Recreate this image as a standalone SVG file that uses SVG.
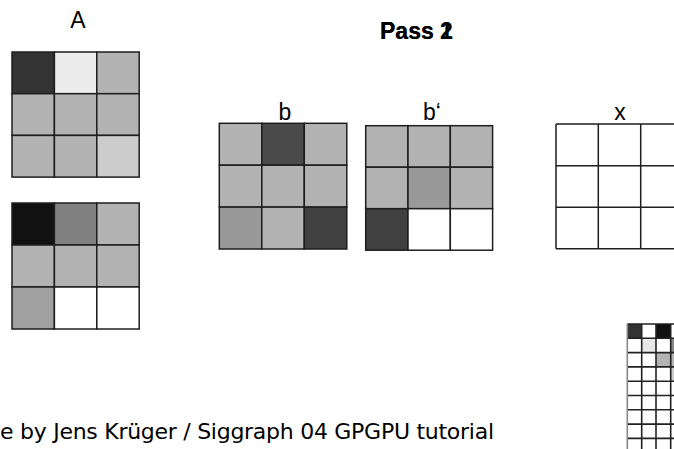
<svg xmlns="http://www.w3.org/2000/svg" width="674" height="449" viewBox="0 0 674 449">
<style>
.cell{stroke:#1e1e1e;stroke-width:1.5}
.lbl{font-family:"Liberation Sans",Arial,sans-serif;font-size:23px;fill:#000;text-anchor:middle}
.pass{font-family:"Liberation Sans",Arial,sans-serif;font-size:23px;font-weight:bold;fill:#000}
.ln{stroke:#1e1e1e;stroke-width:1.5;fill:none}
.sg{stroke:#222;stroke-width:1.6;fill:none}
</style>
<rect width="674" height="449" fill="#fff"/>

<g id="matrixA_top">
<text class="lbl" x="78" y="28">A</text>
<rect class="cell" x="12" y="52" width="42.4" height="41.7" fill="#333333"/>
<rect class="cell" x="54.4" y="52" width="42.4" height="41.7" fill="#ececec"/>
<rect class="cell" x="96.8" y="52" width="42.4" height="41.7" fill="#b3b3b3"/>
<rect class="cell" x="12" y="93.7" width="42.4" height="41.7" fill="#b3b3b3"/>
<rect class="cell" x="54.4" y="93.7" width="42.4" height="41.7" fill="#b3b3b3"/>
<rect class="cell" x="96.8" y="93.7" width="42.4" height="41.7" fill="#b3b3b3"/>
<rect class="cell" x="12" y="135.4" width="42.4" height="41.7" fill="#b3b3b3"/>
<rect class="cell" x="54.4" y="135.4" width="42.4" height="41.7" fill="#b3b3b3"/>
<rect class="cell" x="96.8" y="135.4" width="42.4" height="41.7" fill="#cccccc"/>
</g>

<g id="matrixA_bottom">
<rect class="cell" x="12" y="203" width="42.4" height="42" fill="#111111"/>
<rect class="cell" x="54.4" y="203" width="42.4" height="42" fill="#808080"/>
<rect class="cell" x="96.8" y="203" width="42.4" height="42" fill="#b3b3b3"/>
<rect class="cell" x="12" y="245" width="42.4" height="42" fill="#b3b3b3"/>
<rect class="cell" x="54.4" y="245" width="42.4" height="42" fill="#b3b3b3"/>
<rect class="cell" x="96.8" y="245" width="42.4" height="42" fill="#b3b3b3"/>
<rect class="cell" x="12" y="287" width="42.4" height="42" fill="#a0a0a0"/>
<rect class="cell" x="54.4" y="287" width="42.4" height="42" fill="#ffffff"/>
<rect class="cell" x="96.8" y="287" width="42.4" height="42" fill="#ffffff"/>
</g>

<g id="pass">
<text class="pass" x="380" y="39">Pass 1</text>
<text class="pass" x="380" y="39">Pass 2</text>
</g>

<g id="vector_b">
<text class="lbl" x="285" y="120">b</text>
<rect class="cell" x="219.3" y="123.3" width="42.5" height="41.9" fill="#b3b3b3"/>
<rect class="cell" x="261.8" y="123.3" width="42.5" height="41.9" fill="#4a4a4a"/>
<rect class="cell" x="304.3" y="123.3" width="42.5" height="41.9" fill="#b3b3b3"/>
<rect class="cell" x="219.3" y="165.2" width="42.5" height="41.9" fill="#b3b3b3"/>
<rect class="cell" x="261.8" y="165.2" width="42.5" height="41.9" fill="#b3b3b3"/>
<rect class="cell" x="304.3" y="165.2" width="42.5" height="41.9" fill="#b3b3b3"/>
<rect class="cell" x="219.3" y="207.1" width="42.5" height="41.9" fill="#999999"/>
<rect class="cell" x="261.8" y="207.1" width="42.5" height="41.9" fill="#b3b3b3"/>
<rect class="cell" x="304.3" y="207.1" width="42.5" height="41.9" fill="#404040"/>
</g>

<g id="vector_b_prime">
<text class="lbl" x="432" y="120">b‘</text>
<rect class="cell" x="365.7" y="125.7" width="42.3" height="41.5" fill="#b3b3b3"/>
<rect class="cell" x="408" y="125.7" width="42.3" height="41.5" fill="#b3b3b3"/>
<rect class="cell" x="450.3" y="125.7" width="42.3" height="41.5" fill="#b3b3b3"/>
<rect class="cell" x="365.7" y="167.2" width="42.3" height="41.5" fill="#b3b3b3"/>
<rect class="cell" x="408" y="167.2" width="42.3" height="41.5" fill="#999999"/>
<rect class="cell" x="450.3" y="167.2" width="42.3" height="41.5" fill="#b3b3b3"/>
<rect class="cell" x="365.7" y="208.7" width="42.3" height="41.5" fill="#404040"/>
<rect class="cell" x="408" y="208.7" width="42.3" height="41.5" fill="#ffffff"/>
<rect class="cell" x="450.3" y="208.7" width="42.3" height="41.5" fill="#ffffff"/>
</g>

<g id="vector_x">
<text class="lbl" x="620" y="120">x</text>
<path class="ln" d="M556,124H674M556,165.7H674M556,207.3H674M556,248.7H674M556,124V248.7M598.3,124V248.7M640.7,124V248.7"/>
</g>

<g id="small_grid">
<rect x="627.3" y="324" width="14.4" height="14.3" fill="#333333"/>
<rect x="656" y="324" width="14.7" height="14.3" fill="#111111"/>
<rect x="641.7" y="338.3" width="14.3" height="14.3" fill="#e8e8e8"/>
<rect x="670.7" y="338.3" width="4" height="14.3" fill="#888888"/>
<rect x="656" y="352.6" width="14.7" height="14.3" fill="#b3b3b3"/>
<rect x="670.7" y="352.6" width="4" height="14.3" fill="#b3b3b3"/>
<rect x="670.7" y="366.9" width="4" height="14.3" fill="#cccccc"/>
<path class="sg" d="M627.3,324H674M627.3,338.3H674M627.3,352.6H674M627.3,366.9H674M627.3,381.2H674M627.3,395.5H674M627.3,409.8H674M627.3,424.1H674M627.3,438.4H674M641.7,324V449M656,324V449M670.7,324V449"/>
<path d="M627.3,324V449" stroke="#888" stroke-width="1.6" fill="none"/>
</g>

<g id="caption">
<text x="0" y="439" textLength="494" lengthAdjust="spacing" style="font-family:'DejaVu Sans',Verdana,sans-serif;font-size:22px;fill:#000">e by Jens Krüger / Siggraph 04 GPGPU tutorial</text>
</g>
</svg>
